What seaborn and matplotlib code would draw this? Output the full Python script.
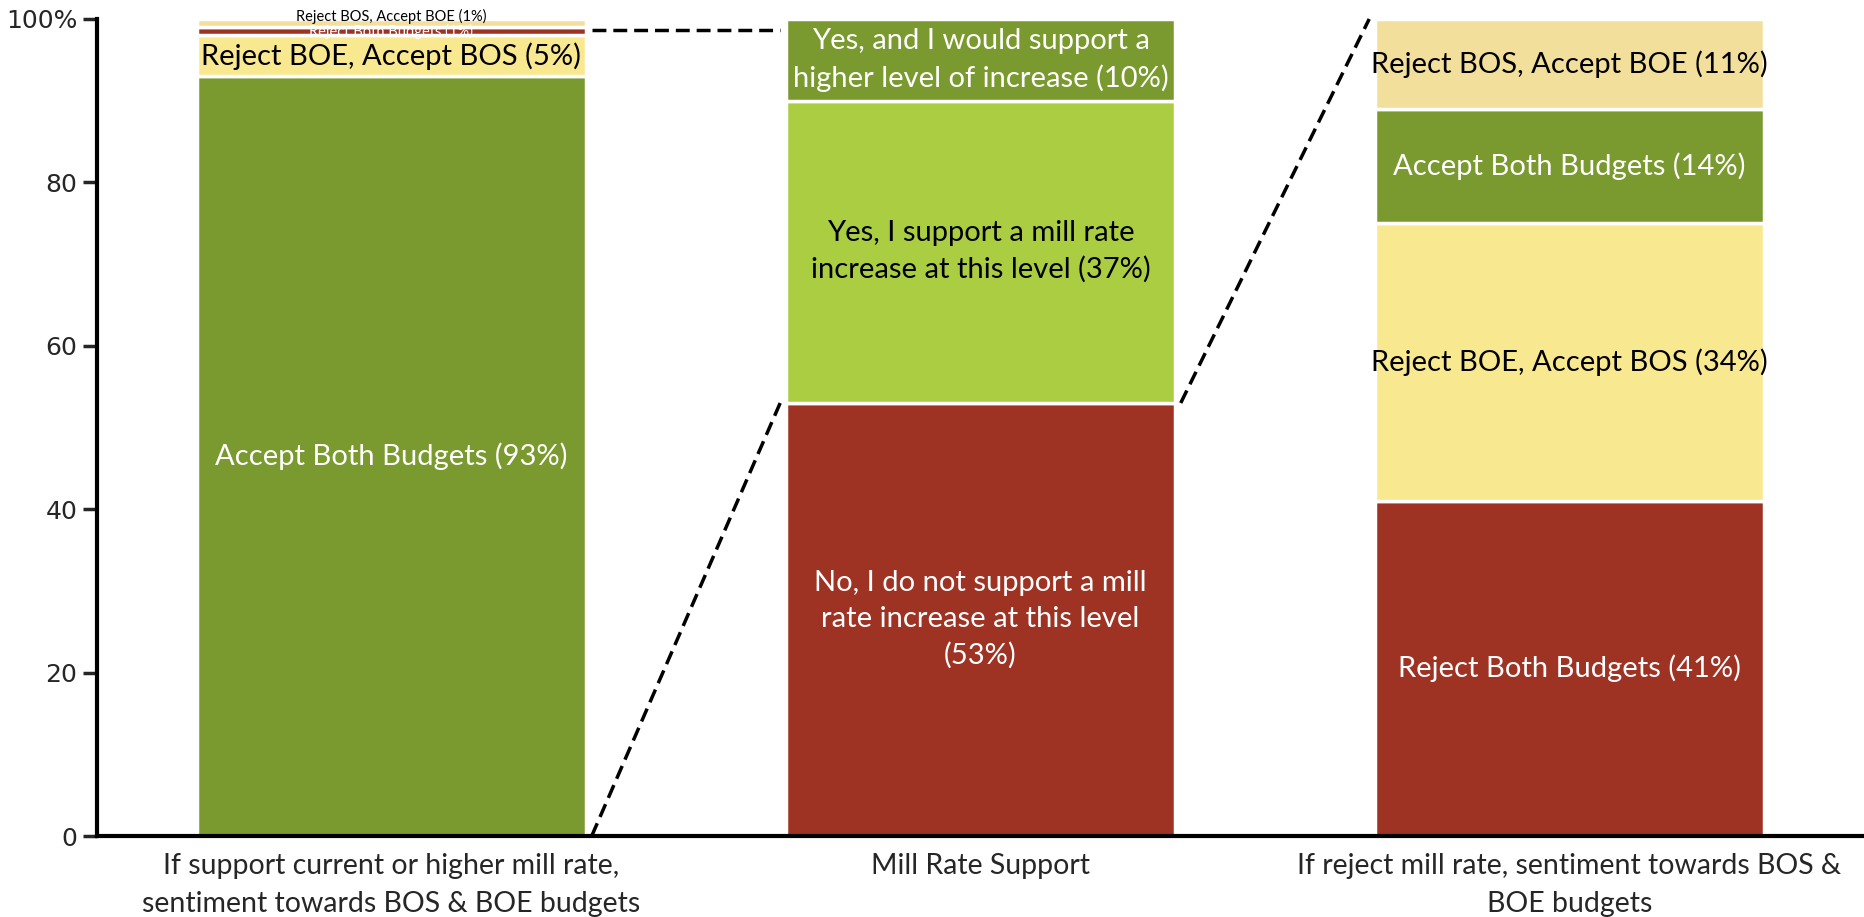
import matplotlib
matplotlib.use("Agg")
import matplotlib.pyplot as plt
import seaborn as sns
import pandas as pd


# Chart data

categories = [
    "If support current or higher mill rate,\nsentiment towards BOS & BOE budgets",
    "Mill Rate Support",
    "If reject mill rate, sentiment towards BOS &\nBOE budgets",
]

# stacked segments, listed bottom to top for each bar
seg_category = [0, 0, 0, 0, 1, 1, 1, 2, 2, 2, 2]
seg_values = [93, 5, 1, 1, 53, 37, 10, 41, 34, 14, 11]
seg_labels = [
    "Accept Both Budgets (93%)",
    "Reject BOE, Accept BOS (5%)",
    "Reject Both Budgets (1%)",
    "Reject BOS, Accept BOE (1%)",
    "No, I do not support a mill\nrate increase at this level\n(53%)",
    "Yes, I support a mill rate\nincrease at this level (37%)",
    "Yes, and I would support a\nhigher level of increase (10%)",
    "Reject Both Budgets (41%)",
    "Reject BOE, Accept BOS (34%)",
    "Accept Both Budgets (14%)",
    "Reject BOS, Accept BOE (11%)",
]
seg_colors = [
    "#7a9a2f", "#f8e88f", "#9e3324", "#f2df9c",
    "#9e3324", "#aacd41", "#7a9a2f",
    "#9e3324", "#f8e88f", "#7a9a2f", "#f2df9c",
]
label_colors = [
    "white", "black", "white", "black",
    "white", "black", "white",
    "white", "black", "white", "black",
]

y_ticks = [0, 20, 40, 60, 80, 100]
y_tick_labels = ["0", "20", "40", "60", "80", "100%"]


# Build the frame with stacking offsets

df = pd.DataFrame({
    "category": [categories[i] for i in seg_category],
    "value": seg_values,
    "label": seg_labels,
    "color": seg_colors,
    "text_color": label_colors,
})
df["bottom"] = df.groupby("category", sort=False)["value"].cumsum() - df["value"]

sns.set_style("white")
plt.rcParams["font.family"] = ["Lato", "DejaVu Sans"]

fig = plt.figure(figsize=(18.64, 9.17), dpi=100)
ax = fig.add_axes([0.052, 0.0883, 0.948, 0.891])

bar_width = 0.66

for _, row in df.iterrows():
    sns.barplot(
        x=[row["category"]],
        y=[row["value"]],
        order=categories,
        color=row["color"],
        width=bar_width,
        bottom=row["bottom"],
        edgecolor="white",
        linewidth=2.5,
        saturation=1,
        ax=ax,
    )

# Segment labels (the two 1% slices get small text squeezed at the top)
small_offsets = {"Reject Both Budgets (1%)": -0.5, "Reject BOS, Accept BOE (1%)": 0.3}
for _, row in df.iterrows():
    xpos = categories.index(row["category"])
    ypos = row["bottom"] + row["value"] / 2
    size = 21
    if row["label"] in small_offsets:
        size = 10.5
        ypos = row["bottom"] + row["value"] + small_offsets[row["label"]]
    ax.text(
        xpos, ypos, row["label"],
        ha="center", va="center",
        color=row["text_color"],
        fontsize=size,
        linespacing=1.45,
    )

# Dashed connectors between the bars
half = bar_width / 2
left_top = 98.6
mid_split = df.loc[(df["category"] == categories[1])]["value"].iloc[0]
dash = (0, (4, 2))
ax.plot([0 + half + 0.01, 1 - half - 0.01], [left_top, left_top],
        ls=dash, color="black", lw=2.5, clip_on=False)
ax.plot([0 + half + 0.01, 1 - half - 0.01], [0, mid_split],
        ls=dash, color="black", lw=2.5, clip_on=False)
ax.plot([1 + half + 0.01, 2 - half - 0.01], [mid_split, 100],
        ls=dash, color="black", lw=2.5, clip_on=False)

# Axes styling
ax.set_xlim(-0.5, 2.5)
ax.set_ylim(0, 100)
ax.set_yticks(y_ticks)
ax.set_yticklabels(y_tick_labels, fontfamily="DejaVu Sans", fontsize=18)
ax.set_xticks(range(len(categories)))
ax.set_xticklabels(categories, fontsize=20.5, linespacing=1.6)
ax.set_xlabel("")
ax.set_ylabel("")
ax.tick_params(axis="y", direction="out", length=10, width=2.5, left=True, pad=4)
ax.tick_params(axis="x", length=0, pad=12)

sns.despine(ax=ax)
ax.spines["left"].set_linewidth(3)
ax.spines["bottom"].set_linewidth(3)
ax.spines["left"].set_color("black")
ax.spines["bottom"].set_color("black")

fig.savefig("out.png", dpi=100)
print("Chart saved: out.png")
